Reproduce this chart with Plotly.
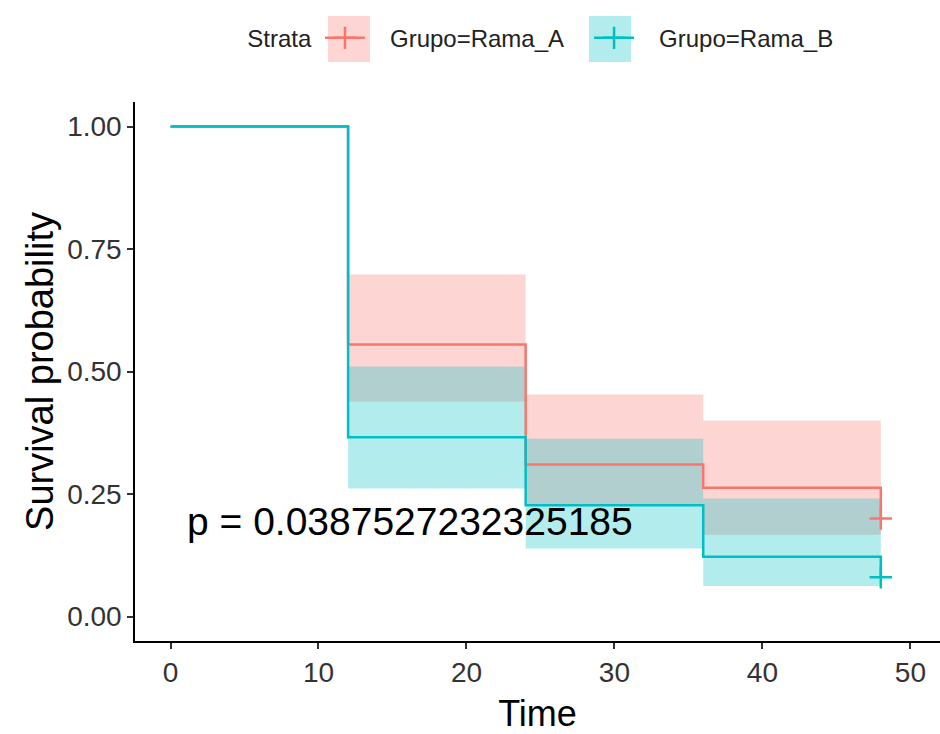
import plotly.graph_objects as go

# ---- data ----
times = [0, 12, 24, 36, 48]

surv_a = [1.0, 0.555, 0.310, 0.263, 0.200]
upper_a = [1.0, 0.698, 0.453, 0.400, 0.400]
lower_a = [1.0, 0.439, 0.229, 0.167, 0.167]

surv_b = [1.0, 0.366, 0.227, 0.122, 0.080]
upper_b = [1.0, 0.510, 0.363, 0.241, 0.241]
lower_b = [1.0, 0.261, 0.139, 0.062, 0.062]

censor_time = [48]
censor_a = [0.200]
censor_b = [0.080]

labels = ["Grupo=Rama_A", "Grupo=Rama_B"]
colors = ["#F8766D", "#00BFC4"]
band_colors = ["rgba(248,118,109,0.3)", "rgba(0,191,196,0.3)"]
p_text = "p = 0.0387527232325185"

x_ticks = [0, 10, 20, 30, 40, 50]
y_ticks = [0.0, 0.25, 0.50, 0.75, 1.0]
y_ticklabels = ["0.00", "0.25", "0.50", "0.75", "1.00"]

FONT = "Liberation Sans, Arial, sans-serif"
PAD = "\u00a0\u00a0\u00a0"

fig = go.Figure()

# confidence bands (band segments end at the last event time)
for up, lo, bc in [(upper_a, lower_a, band_colors[0]), (upper_b, lower_b, band_colors[1])]:
    fig.add_trace(go.Scatter(x=times, y=lo[:-1] + [lo[-2]], mode="lines",
                             line=dict(width=0, shape="hv"), showlegend=False, hoverinfo="skip"))
    fig.add_trace(go.Scatter(x=times, y=up[:-1] + [up[-2]], mode="lines",
                             line=dict(width=0, shape="hv"), fill="tonexty", fillcolor=bc,
                             showlegend=False, hoverinfo="skip"))

# survival step lines
for s, c in [(surv_a, colors[0]), (surv_b, colors[1])]:
    fig.add_trace(go.Scatter(x=times, y=s, mode="lines", line=dict(color=c, width=2.5, shape="hv"),
                             showlegend=False, hoverinfo="skip"))

# censor marks (also carry the legend entries)
for cy, c, name in [(censor_a, colors[0], labels[0]), (censor_b, colors[1], labels[1])]:
    fig.add_trace(go.Scatter(x=censor_time, y=cy, mode="lines+markers", name=PAD + name + PAD,
                             line=dict(color=c, width=2.5),
                             marker=dict(symbol="cross-thin", size=16, line=dict(color=c, width=2.5))))

fig.add_annotation(x=1.0, y=0.194, xref="x", yref="y", text=p_text, showarrow=False,
                   xanchor="left", yanchor="middle",
                   font=dict(family=FONT, size=39, color="black"))

# legend key backgrounds (ggplot-style filled keys)
def px_x(px):
    return (px - 135) / 805.0

def px_y(py):
    return (641 - py) / 539.0

for cx, bc in [(349, band_colors[0]), (610, band_colors[1])]:
    fig.add_shape(type="rect", xref="paper", yref="paper",
                  x0=px_x(cx - 21), x1=px_x(cx + 21), y0=px_y(62), y1=px_y(16),
                  fillcolor=bc, line=dict(width=0), layer="below")

fig.update_layout(
    width=940, height=734,
    margin=dict(l=135, r=0, t=102, b=93),
    paper_bgcolor="white", plot_bgcolor="white",
    font=dict(family=FONT),
    legend=dict(orientation="h", x=0.137, xanchor="left", y=1.16, yanchor="top",
                traceorder="normal", bgcolor="rgba(0,0,0,0)",
                title=dict(text="Strata", font=dict(size=24, color="#222")),
                font=dict(size=24, color="#222"), itemwidth=40),
)
fig.update_xaxes(range=[-2.4, 52.0], tickvals=x_ticks, showgrid=False, zeroline=False,
                 showline=True, linecolor="black", linewidth=1.5,
                 ticks="outside", ticklen=6, tickcolor="#333", tickwidth=1.5,
                 tickfont=dict(size=28, color="#333"),
                 title=dict(text="Time", font=dict(size=36, color="black"), standoff=14))
fig.update_yaxes(range=[-0.05, 1.05], tickvals=y_ticks, ticktext=y_ticklabels, showgrid=False,
                 zeroline=False, showline=True, linecolor="black", linewidth=1.5,
                 ticks="outside", ticklen=6, tickcolor="#333", tickwidth=1.5,
                 tickfont=dict(size=28, color="#333"),
                 title=dict(text="Survival probability", font=dict(size=38, color="black"), standoff=2))

fig.write_html("out.html")
